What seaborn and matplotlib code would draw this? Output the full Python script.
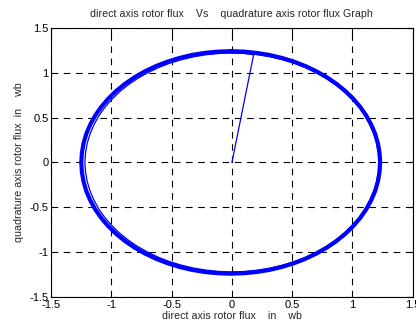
import matplotlib
matplotlib.use('Agg')
import matplotlib.pyplot as plt
import seaborn as sns
import pandas as pd

# start-up transient: from origin to the first point on the circle
start_d = [0.0, 0.18, 0.106, 0.000]
start_q = [0.0, 1.20, 1.215, 1.220]

# first loop (slightly smaller radius, shows as a thin inner line)
loop1_d = [0.000, -0.106, -0.212, -0.316, -0.417, -0.516, -0.610, -0.700, -0.784, -0.863,
           -0.935, -0.999, -1.057, -1.106, -1.146, -1.178, -1.201, -1.215, -1.220,
           -1.215, -1.201, -1.178, -1.146, -1.106, -1.057, -0.999, -0.935, -0.863,
           -0.784, -0.700, -0.610, -0.516, -0.417, -0.316, -0.212, -0.106, 0.000,
           0.106, 0.212, 0.316, 0.417, 0.516, 0.610, 0.700, 0.784, 0.863,
           0.935, 0.999, 1.057, 1.106, 1.146, 1.178, 1.201, 1.215, 1.220,
           1.215, 1.201, 1.178, 1.146, 1.106, 1.057, 0.999, 0.935, 0.863,
           0.784, 0.700, 0.610, 0.516, 0.417, 0.316, 0.212, 0.106, 0.000]
loop1_q = [1.220, 1.215, 1.201, 1.178, 1.146, 1.106, 1.057, 0.999, 0.935, 0.863,
           0.784, 0.700, 0.610, 0.516, 0.417, 0.316, 0.212, 0.106, 0.000,
           -0.106, -0.212, -0.316, -0.417, -0.516, -0.610, -0.700, -0.784, -0.863,
           -0.935, -0.999, -1.057, -1.106, -1.146, -1.178, -1.201, -1.215, -1.220,
           -1.215, -1.201, -1.178, -1.146, -1.106, -1.057, -0.999, -0.935, -0.863,
           -0.784, -0.700, -0.610, -0.516, -0.417, -0.316, -0.212, -0.106, 0.000,
           0.106, 0.212, 0.316, 0.417, 0.516, 0.610, 0.700, 0.784, 0.863,
           0.935, 0.999, 1.057, 1.106, 1.146, 1.178, 1.201, 1.215, 1.220]

# steady state loops (drawn as one thick band)
steady_d = [-0.010, -0.118, -0.225, -0.331, -0.434, -0.534, -0.630, -0.721, -0.807, -0.887,
            -0.960, -1.026, -1.084, -1.134, -1.175, -1.208, -1.231, -1.245, -1.250,
            -1.245, -1.231, -1.208, -1.175, -1.134, -1.084, -1.026, -0.960, -0.887,
            -0.807, -0.721, -0.630, -0.534, -0.434, -0.331, -0.225, -0.118, -0.010,
            0.098, 0.205, 0.311, 0.414, 0.514, 0.610, 0.701, 0.787, 0.867,
            0.940, 1.006, 1.064, 1.114, 1.155, 1.188, 1.211, 1.225, 1.230,
            1.225, 1.211, 1.188, 1.155, 1.114, 1.064, 1.006, 0.940, 0.867,
            0.787, 0.701, 0.610, 0.514, 0.414, 0.311, 0.205, 0.098, -0.010]
steady_q = [1.240, 1.235, 1.221, 1.198, 1.165, 1.124, 1.074, 1.016, 0.950, 0.877,
            0.797, 0.711, 0.620, 0.524, 0.424, 0.321, 0.215, 0.108, 0.000,
            -0.108, -0.215, -0.321, -0.424, -0.524, -0.620, -0.711, -0.797, -0.877,
            -0.950, -1.016, -1.074, -1.124, -1.165, -1.198, -1.221, -1.235, -1.240,
            -1.235, -1.221, -1.198, -1.165, -1.124, -1.074, -1.016, -0.950, -0.877,
            -0.797, -0.711, -0.620, -0.524, -0.424, -0.321, -0.215, -0.108, 0.000,
            0.108, 0.215, 0.321, 0.424, 0.524, 0.620, 0.711, 0.797, 0.877,
            0.950, 1.016, 1.074, 1.124, 1.165, 1.198, 1.221, 1.235, 1.240]

ticks = [-1.5, -1, -0.5, 0, 0.5, 1, 1.5]
tick_labels = ['-1.5', '-1', '-0.5', '0', '0.5', '1', '1.5']

sns.set_style('white')
plt.rcParams['font.family'] = ['Liberation Sans', 'DejaVu Sans']

start = pd.DataFrame({'d': start_d, 'q': start_q})
first = pd.DataFrame({'d': loop1_d, 'q': loop1_q})
steady = pd.DataFrame({'d': steady_d, 'q': steady_q})

fig = plt.figure(figsize=(4.16, 3.28), dpi=100)
ax = fig.add_axes([0.123, 0.0945, 0.869, 0.8205])

kw = dict(x='d', y='q', sort=False, estimator=None, color='blue', ax=ax,
          solid_joinstyle='round', solid_capstyle='round')
sns.lineplot(data=start, linewidth=0.9, **kw)
sns.lineplot(data=steady, linewidth=3.0, **kw)
sns.lineplot(data=first, linewidth=0.9, **kw)

ax.set_xlim(-1.5, 1.5)
ax.set_ylim(-1.5, 1.5)
ax.set_xticks(ticks)
ax.set_xticklabels(tick_labels)
ax.set_yticks(ticks)
ax.set_yticklabels(tick_labels)
ax.grid(True, color='black', linestyle=(0, (6, 5)), linewidth=0.8)
ax.tick_params(direction='in', length=4, width=0.8, labelsize=8, colors='black',
               top=True, right=True, pad=2)
for s in ax.spines.values():
    s.set_color('black')
    s.set_linewidth(0.8)

ax.set_title('direct axis rotor flux    Vs    quadrature axis rotor flux Graph', fontsize=7.7, pad=8)
ax.set_xlabel('direct axis rotor flux    in    wb', fontsize=7.7, labelpad=1)
ax.set_ylabel('quadrature axis rotor flux  in    wb', fontsize=7.7, labelpad=4)

fig.savefig('out.png', dpi=100)
